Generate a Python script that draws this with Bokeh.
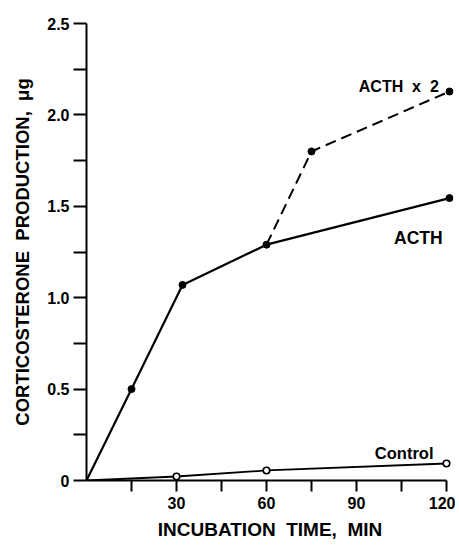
from bokeh.plotting import figure
from bokeh.models import Range1d, FixedTicker, CustomJSTickFormatter, Label, Title
from bokeh.embed import file_html
from bokeh.resources import INLINE

# ---- data ----
acth_t = [0, 15, 32, 60, 121]
acth_v = [0.0, 0.50, 1.07, 1.29, 1.545]
acth2_t = [60, 75, 121]
acth2_v = [1.29, 1.80, 2.128]
ctrl_t = [0, 30, 60, 120]
ctrl_v = [0.0, 0.022, 0.055, 0.093]

x_major = [30, 60, 90, 120]
x_minor = [15, 45, 75, 105]
y_major = [0, 0.5, 1.0, 1.5, 2.0, 2.5]
y_minor = [0.25, 0.75, 1.25, 1.75, 2.25]

FONT = "Liberation Sans"
SP = "\u00a0\u00a0"

p = figure(width=455, height=545, output_backend="svg", toolbar_location=None,
           x_range=Range1d(0, 367 / 3), y_range=Range1d(0, 2.5),
           min_border_left=86, min_border_right=2, min_border_top=23,
           min_border_bottom=65)
p.outline_line_color = None
p.grid.visible = False
p.background_fill_color = "white"
p.border_fill_color = "white"

for ax in (p.xaxis[0], p.yaxis[0]):
    ax.axis_line_width = 2
    ax.axis_line_color = "black"
    ax.major_tick_line_width = 2
    ax.minor_tick_line_width = 2
    ax.major_tick_in = 0
    ax.minor_tick_in = 0
    ax.major_label_text_font = FONT
    ax.major_label_text_font_style = "bold"
    ax.major_label_text_font_size = "16px"
    ax.major_label_text_color = "black"

xa = p.xaxis[0]
xa.ticker = FixedTicker(ticks=x_major, minor_ticks=x_minor)
xa.bounds = (0, 120)
xa.major_tick_out = 11
xa.minor_tick_out = 11
xa.major_label_standoff = 5
xa.formatter = CustomJSTickFormatter(code="return tick.toFixed(0);")

ya = p.yaxis[0]
ya.ticker = FixedTicker(ticks=y_major, minor_ticks=y_minor)
ya.bounds = (0, 2.5)
ya.major_tick_out = 13
ya.minor_tick_out = 13
ya.major_label_standoff = 4
ya.formatter = CustomJSTickFormatter(code="return tick === 0 ? '0' : tick.toFixed(1);")
ya.axis_label = "CORTICOSTERONE" + SP + "PRODUCTION," + SP + "\u03bcg"
ya.axis_label_text_font = FONT
ya.axis_label_text_font_style = "bold"
ya.axis_label_text_font_size = "18.5px"
ya.axis_label_text_color = "black"
ya.axis_label_standoff = 11

# x-axis title as a Title below the axis
p.add_layout(Title(text="INCUBATION" + SP + "TIME," + SP + "MIN", align="center",
                   offset=36, standoff=10, text_font=FONT, text_font_style="bold",
                   text_font_size="19px", text_color="black"), "below")

# ---- lines ----
p.line(acth_t, acth_v, line_color="black", line_width=2.2)
p.line(acth2_t, acth2_v, line_color="black", line_width=2, line_dash="11 6")
p.line(ctrl_t, ctrl_v, line_color="black", line_width=1.8)

# ---- markers ----
p.scatter(acth_t[1:], acth_v[1:], size=7, color="black")
p.scatter(acth2_t[1:], acth2_v[1:], size=7, color="black")
p.scatter(ctrl_t[1:], ctrl_v[1:], size=6.5, fill_color="white",
          line_color="black", line_width=1.6)

# ---- series labels ----
def lab(x, y, text, size):
    p.add_layout(Label(x=x, y=y, text=text, text_font=FONT, text_font_style="bold",
                       text_font_size=size, text_color="black",
                       text_align="center", text_baseline="alphabetic"))

lab(104.1, 2.155, "ACTH" + SP + "x" + SP + "2", "16px")
lab(110.6, 1.3255, "ACTH", "17.5px")
lab(105.9, 0.149, "Control", "16.5px")

open("out.html", "w").write(file_html(p, INLINE))
